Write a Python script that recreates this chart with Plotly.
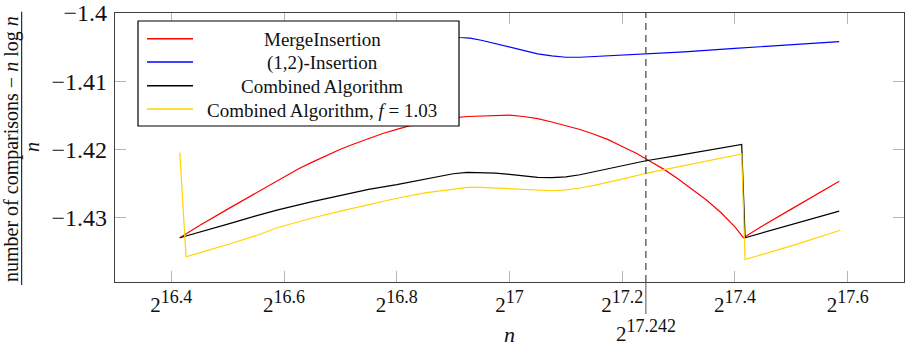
import plotly.graph_objects as go

# ---------------------------------------------------------------------------
# Data: x values are log2(n), y values are (comparisons - n log n) / n
# ---------------------------------------------------------------------------
log2_n_merge = [16.415, 16.45, 16.50, 16.55, 16.60, 16.625, 16.65, 16.675, 16.70,
                16.725, 16.75, 16.775, 16.80, 16.825, 16.85, 16.875, 16.90, 16.925,
                16.95, 16.975, 17.00, 17.025, 17.05, 17.075, 17.10, 17.125, 17.15,
                17.175, 17.20, 17.225, 17.25, 17.275, 17.30, 17.325, 17.35, 17.375,
                17.40, 17.415, 17.45, 17.50, 17.55, 17.585]
merge_insertion = [-1.4330, -1.4312, -1.4288, -1.4264, -1.4240, -1.4229, -1.4219,
                   -1.4209, -1.4200, -1.4192, -1.4184, -1.4177, -1.4171, -1.4165,
                   -1.4161, -1.4157, -1.4154, -1.4152, -1.4151, -1.4150, -1.4150,
                   -1.4152, -1.4155, -1.4160, -1.4165, -1.4171, -1.4178, -1.4186,
                   -1.4196, -1.4206, -1.4218, -1.4230, -1.4244, -1.4259, -1.4275,
                   -1.4293, -1.4314, -1.4330, -1.4312, -1.4288, -1.4264, -1.4247]

log2_n_12 = [16.415, 16.50, 16.585, 16.70, 16.80, 16.86, 16.912, 16.93, 16.95,
             16.975, 17.00, 17.025, 17.05, 17.075, 17.10, 17.125, 17.15, 17.20,
             17.25, 17.31, 17.40, 17.46, 17.52, 17.585]
insertion_12 = [-1.4052, -1.4047, -1.4042, -1.4036, -1.4032, -1.4032, -1.4036,
                -1.4037, -1.4040, -1.4045, -1.4051, -1.4056, -1.4060, -1.4063,
                -1.4065, -1.4065, -1.4064, -1.4062, -1.4059, -1.4057, -1.4052,
                -1.4049, -1.4046, -1.4042]

log2_n_comb = [16.415, 16.45, 16.50, 16.55, 16.589, 16.65, 16.70, 16.75, 16.80,
               16.85, 16.875, 16.90, 16.925, 16.95, 16.975, 17.00, 17.025, 17.05,
               17.075, 17.10, 17.125, 17.15, 17.175, 17.20, 17.242, 17.30, 17.35,
               17.412, 17.418, 17.50, 17.585]
combined = [-1.4330, -1.4322, -1.4310, -1.4298, -1.4289, -1.4277, -1.4268, -1.4259,
            -1.4252, -1.4244, -1.4240, -1.4236, -1.4234, -1.4234, -1.4235, -1.4237,
            -1.42395, -1.42415, -1.42418, -1.42405, -1.42375, -1.4233, -1.4228,
            -1.4224, -1.4217, -1.4209, -1.4202, -1.4193, -1.4330, -1.4311, -1.4291]

log2_n_f103 = [16.415, 16.426, 16.50, 16.55, 16.589, 16.65, 16.70, 16.75, 16.80,
               16.85, 16.875, 16.90, 16.925, 16.95, 16.975, 17.00, 17.025, 17.05,
               17.075, 17.10, 17.125, 17.15, 17.175, 17.20, 17.244, 17.30, 17.35,
               17.412, 17.418, 17.50, 17.587]
combined_f103 = [-1.4205, -1.4358, -1.4340, -1.4327, -1.4315, -1.4301, -1.4291,
                 -1.4281, -1.4272, -1.4264, -1.4261, -1.4258, -1.4256, -1.4256,
                 -1.4257, -1.4258, -1.42595, -1.42608, -1.4261, -1.42598, -1.4257,
                 -1.4253, -1.4249, -1.4244, -1.4235, -1.4226, -1.4218, -1.4207,
                 -1.4362, -1.4342, -1.4319]

series_names = ["MergeInsertion", "(1,2)-Insertion", "Combined Algorithm",
                "Combined Algorithm, <i>f</i> = 1.03"]
series_colors = ["#ff0000", "#0000ff", "#000000", "#ffd500"]

x_tick_vals = [16.4, 16.6, 16.8, 17.0, 17.2, 17.4, 17.6]
x_tick_exps = ["16.4", "16.6", "16.8", "17", "17.2", "17.4", "17.6"]
y_tick_vals = [-1.43, -1.42, -1.41, -1.40]
y_tick_text = ["\u22121.43", "\u22121.42", "\u22121.41", "\u22121.4"]

threshold = 17.242
threshold_exp = "17.242"

FONT = "Liberation Serif, Times New Roman, serif"
SUP_STYLE = "font-size:18px"


def power_of_two(exp):
    return "2<sup><span style='%s'>%s</span></sup>" % (SUP_STYLE, exp)


# ---------------------------------------------------------------------------
fig = go.Figure()
xs = [log2_n_merge, log2_n_12, log2_n_comb, log2_n_f103]
ys = [merge_insertion, insertion_12, combined, combined_f103]
for x, y, name, color in zip(xs, ys, series_names, series_colors):
    fig.add_trace(go.Scatter(x=x, y=y, mode="lines", name=name, showlegend=False,
                             line=dict(color=color, width=1.2)))

axis_common = dict(showgrid=False, zeroline=False, showline=True, linecolor="#404040",
                   linewidth=1.2, mirror="allticks", ticks="inside", ticklen=11,
                   tickcolor="#b5b5b5", tickwidth=1, ticklabeloverflow="allow")

fig.update_xaxes(range=[16.3, 17.7], tickmode="array", tickvals=x_tick_vals,
                 ticktext=[power_of_two(e) for e in x_tick_exps],
                 tickfont=dict(family=FONT, size=21, color="#111"),
                 ticklabelstandoff=4, **axis_common)
fig.update_yaxes(range=[-1.4395, -1.4], tickmode="array", tickvals=y_tick_vals,
                 ticktext=y_tick_text, tickfont=dict(family=FONT, size=24, color="#111"),
                 ticklabelstandoff=2, **axis_common)

# Plot area is 789 x 269 px (left 115, top 13)
PW, PH = 789.0, 269.0


def px(xp):
    return (xp - 115) / PW


def py(yp):
    return (282 - yp) / PH


shapes = []
# threshold marker: dashed line inside the plot, solid tick below the axis
shapes.append(dict(type="line", xref="x", yref="paper", x0=threshold, x1=threshold,
                   y0=0, y1=1, line=dict(color="#404040", width=1.2, dash="7px,5px"),
                   layer="above"))
shapes.append(dict(type="line", xref="x", yref="paper", x0=threshold, x1=threshold,
                   y0=0, y1=py(314), line=dict(color="#505050", width=1)))

# legend box
shapes.append(dict(type="rect", xref="paper", yref="paper", x0=px(138), x1=px(459),
                   y0=py(126), y1=py(21), fillcolor="white",
                   line=dict(color="black", width=1.2), layer="above"))
row_y = [38.7, 62.0, 85.7, 109.0]
annotations = []
for ry, name, color in zip(row_y, series_names, series_colors):
    shapes.append(dict(type="line", xref="paper", yref="paper", x0=px(147), x1=px(193),
                       y0=py(ry), y1=py(ry), line=dict(color=color, width=1.6),
                       layer="above"))
    annotations.append(dict(xref="paper", yref="paper", x=px(322), y=py(ry + 1),
                            text=name, showarrow=False, xanchor="center",
                            yanchor="middle", font=dict(family=FONT, size=19, color="#111")))

# fraction-style y axis title
shapes.append(dict(type="line", xref="paper", yref="paper", x0=px(21.7), x1=px(21.7),
                   y0=py(285), y1=py(11.7), line=dict(color="black", width=1)))
annotations.append(dict(xref="paper", yref="paper", x=px(11.5), y=py(148.5),
                        text="number of comparisons \u2212 <i>n</i> log <i>n</i>",
                        textangle=-90, showarrow=False, xanchor="center", yanchor="middle",
                        font=dict(family=FONT, size=20, color="#111")))
annotations.append(dict(xref="paper", yref="paper", x=px(32), y=py(147),
                        text="<i>n</i>", textangle=-90, showarrow=False,
                        xanchor="center", yanchor="middle",
                        font=dict(family=FONT, size=20, color="#111")))

# x axis title and threshold label
annotations.append(dict(xref="paper", yref="paper", x=0.5, y=py(334),
                        text="<i>n</i>", showarrow=False, xanchor="center",
                        yanchor="middle", font=dict(family=FONT, size=22, color="#111")))
annotations.append(dict(xref="x", yref="paper", x=threshold, y=py(331),
                        text=power_of_two(threshold_exp), showarrow=False, xanchor="center",
                        yanchor="middle", font=dict(family=FONT, size=21, color="#111")))

fig.update_layout(width=905, height=346, margin=dict(l=115, r=1, t=13, b=64),
                  plot_bgcolor="white", paper_bgcolor="white",
                  shapes=shapes, annotations=annotations, showlegend=False)

fig.write_html("out.html")
